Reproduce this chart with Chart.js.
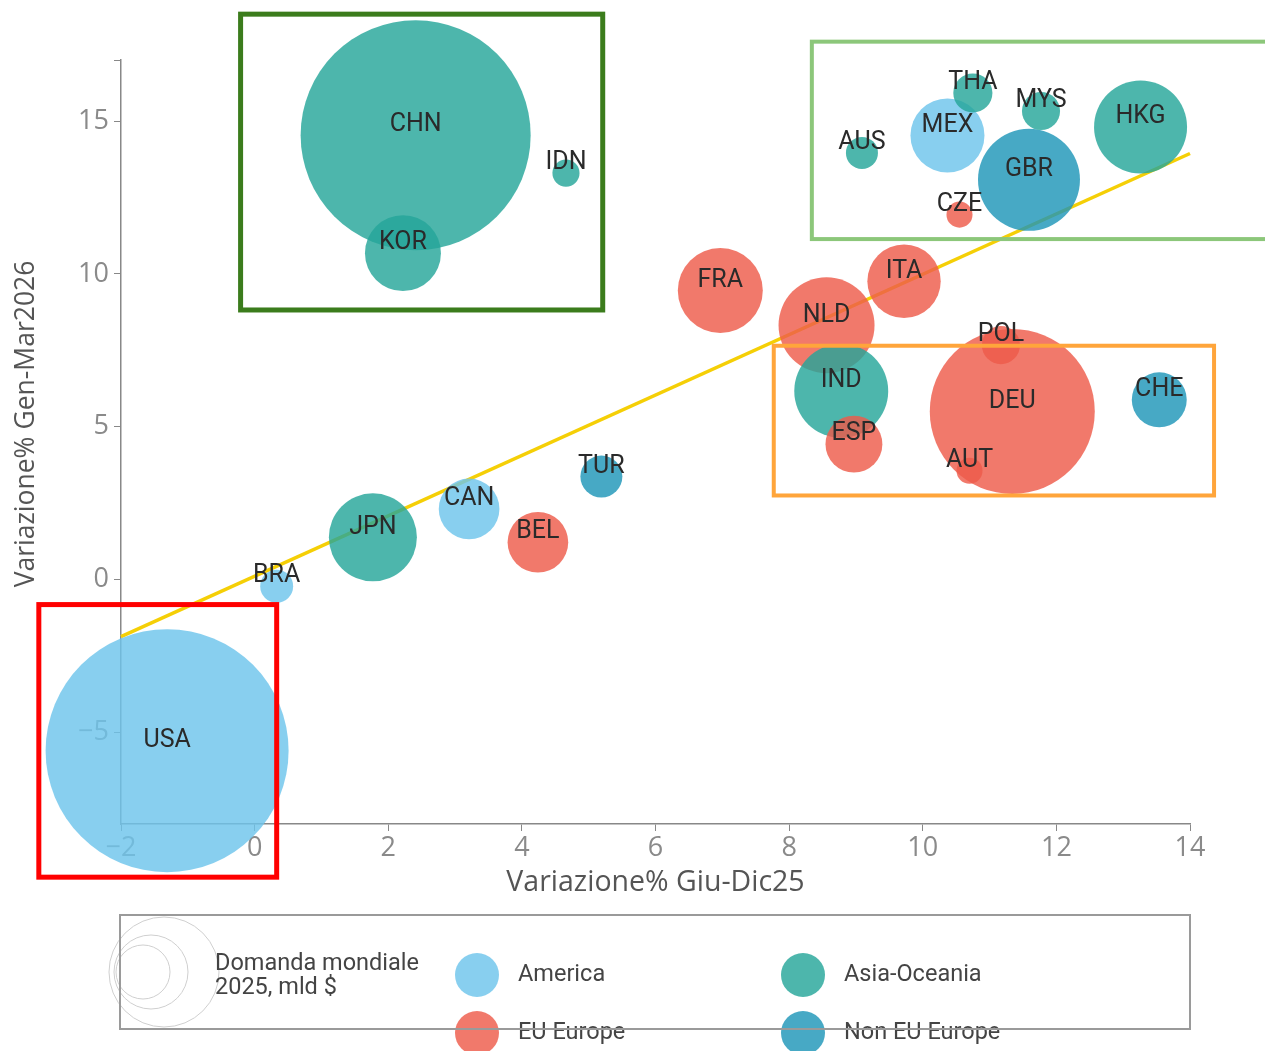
<!DOCTYPE html>
<html>
<head>
<meta charset="utf-8">
<script src="https://cdn.jsdelivr.net/npm/chart.js@4.4.1/dist/chart.umd.min.js"></script>
<style>
  html, body { margin: 0; padding: 0; background: #fff; }
  #wrap { width: 1265px; height: 1051px; position: relative; }
</style>
</head>
<body>
<div id="wrap"><canvas id="chart"></canvas></div>
<script>
// paesi, nell'ordine in cui vengono disegnati (i più grandi sotto)
const countries = ["USA", "CHN", "DEU", "HKG", "NLD", "IND", "JPN", "FRA", "MEX", "GBR", "KOR", "ITA", "CAN",
  "BEL", "ESP", "CHE", "TUR", "THA", "MYS", "POL", "AUS", "BRA", "IDN", "CZE", "AUT"];
// Variazione% Giu-Dic25
const varGiuDic = [-1.31, 2.41, 11.34, 13.26, 8.56, 8.78, 1.77, 6.97, 10.37, 11.59, 2.22, 9.72, 3.21,
  4.24, 8.97, 13.54, 5.19, 10.75, 11.77, 11.17, 9.09, 0.33, 4.66, 10.55, 10.70];
// Variazione% Gen-Mar2026
const varGenMar = [-5.6, 14.54, 5.5, 14.81, 8.32, 6.17, 1.38, 9.46, 14.53, 13.08, 10.68, 9.76, 2.31,
  1.22, 4.43, 5.88, 3.37, 15.92, 15.33, 7.67, 13.96, -0.22, 13.3, 11.94, 3.56];
// Domanda mondiale 2025, mld $
const domanda = [3050, 2733, 1406, 447, 476, 456, 400, 373, 283, 537, 298, 278, 190,
  190, 167, 156, 91, 79, 75, 75, 53, 56, 38, 35, 35];
// area geografica (indice in regions)
const area = [0, 1, 2, 1, 2, 1, 1, 2, 0, 3, 1, 2, 0,
  2, 2, 3, 3, 1, 1, 2, 1, 0, 1, 2, 2];
const regions = ["America", "Asia-Oceania", "EU Europe", "Non EU Europe"];
const regionColors = ["rgba(110,196,236,0.82)", "rgba(38,166,154,0.82)", "rgba(238,92,74,0.82)", "rgba(30,150,184,0.82)"];

const xTicks = [-2, 0, 2, 4, 6, 8, 10, 12, 14];
const yTicks = [-5, 0, 5, 10, 15, 17];

// retta di tendenza
const trendX = [-2, 14];
const trendY = [-1.87, 13.94];

// riquadri evidenziati (coordinate in unità degli assi)
const boxes = [
  { x0: -3.23, x1: 0.33, y0: -0.82, y1: -9.74, color: "#ff0000", w: 5 },
  { x0: -0.21, x1: 5.21, y0: 18.5, y1: 8.82, color: "#3b7c1c", w: 5 },
  { x0: 8.34, x1: 15.6, y0: 17.6, y1: 11.14, color: "#8cc77a", w: 4 },
  { x0: 7.77, x1: 14.36, y0: 7.65, y1: 2.75, color: "#ffa53b", w: 4 }
];

const SIZE_K = 2.2; // raggio px = k * sqrt(domanda)
const fmt = (v) => String(v).replace("-", "\u2212");

const bubbleLabels = {
  id: "bubbleLabels",
  afterDatasetsDraw(chart) {
    const ctx = chart.ctx;
    const meta = chart.getDatasetMeta(1);
    ctx.save();
    ctx.font = "25px Roboto";
    ctx.fillStyle = "#2a2a2a";
    ctx.textAlign = "center";
    ctx.textBaseline = "middle";
    meta.data.forEach((el, i) => {
      ctx.fillText(countries[i], el.x, el.y - 10);
    });
    // riquadri
    const xs = chart.scales.x, ys = chart.scales.y;
    boxes.forEach((b) => {
      const l = xs.getPixelForValue(b.x0), r = xs.getPixelForValue(b.x1);
      const t = ys.getPixelForValue(b.y0), bt = ys.getPixelForValue(b.y1);
      ctx.strokeStyle = b.color;
      ctx.lineWidth = b.w;
      ctx.strokeRect(l, t, r - l, bt - t);
    });
    ctx.restore();
  }
};

const yTitle = {
  id: "yTitle",
  afterDraw(chart) {
    const ctx = chart.ctx;
    ctx.save();
    ctx.translate(26, 424);
    ctx.rotate(-Math.PI / 2);
    ctx.font = "26.5px 'Open Sans'";
    ctx.fillStyle = "#555";
    ctx.textAlign = "center";
    ctx.textBaseline = "middle";
    ctx.fillText("Variazione% Gen-Mar2026", 0, 0);
    ctx.restore();
  }
};

const sizeLegend = {
  id: "sizeLegend",
  afterDraw(chart) {
    const ctx = chart.ctx;
    ctx.save();
    // cerchi della dimensione
    ctx.strokeStyle = "#cfcfcf";
    ctx.lineWidth = 1;
    [[164, 972, 55], [151, 972, 37], [143, 972, 27]].forEach(([cx, cy, r]) => {
      ctx.beginPath();
      ctx.arc(cx, cy, r, 0, Math.PI * 2);
      ctx.stroke();
    });
    ctx.fillStyle = "#444";
    ctx.font = "23.5px Roboto";
    ctx.textAlign = "left";
    ctx.textBaseline = "middle";
    ctx.fillText("Domanda mondiale", 215, 964);
    ctx.fillText("2025, mld $", 215, 988);
    // aree
    regions.forEach((name, i) => {
      const cx = i % 2 === 0 ? 477 : 803;
      const cy = i < 2 ? 975 : 1033;
      ctx.fillStyle = regionColors[i];
      ctx.beginPath();
      ctx.arc(cx, cy, 22, 0, Math.PI * 2);
      ctx.fill();
      ctx.fillStyle = "#444";
      ctx.fillText(name, cx + 41, cy);
    });
    ctx.strokeStyle = "#9a9a9a";
    ctx.lineWidth = 2;
    ctx.strokeRect(120, 915, 1070, 114);
    ctx.restore();
  }
};

new Chart(document.getElementById("chart"), {
  type: "bubble",
  data: {
    datasets: [
      {
        type: "line",
        data: trendX.map((x, i) => ({ x: x, y: trendY[i] })),
        borderColor: "#f5cf06",
        borderWidth: 3.5,
        pointRadius: 0,
        fill: false,
        clip: false,
        order: 2
      },
      {
        type: "bubble",
        data: countries.map((c, i) => ({ x: varGiuDic[i], y: varGenMar[i], r: SIZE_K * Math.sqrt(domanda[i]) })),
        backgroundColor: area.map((a) => regionColors[a]),
        borderWidth: 0,
        clip: false,
        order: 1
      }
    ]
  },
  options: {
    responsive: true,
    maintainAspectRatio: false,
    animation: false,
    devicePixelRatio: 1,
    layout: { autoPadding: false, padding: { left: 0, top: 60, right: 75, bottom: 151 } },
    plugins: { legend: { display: false }, tooltip: { enabled: false } },
    scales: {
      x: {
        type: "linear",
        min: -2,
        max: 14,
        afterBuildTicks: (s) => { s.ticks = xTicks.map((v) => ({ value: v })); },
        afterFit: (s) => { s.height = 76; },
        grid: { drawOnChartArea: false, tickLength: 7, tickColor: "#888", color: "#888" },
        border: { color: "#888", width: 1.5 },
        ticks: { color: "#8a8a8a", font: { size: 27, family: "'Open Sans'" }, padding: 1, callback: (v) => fmt(v) },
        title: { display: true, text: "Variazione% Giu-Dic25", color: "#555", font: { size: 28.5, family: "'Open Sans'" }, padding: { top: 0, bottom: 0 } }
      },
      y: {
        type: "linear",
        min: -8,
        max: 17,
        afterBuildTicks: (s) => { s.ticks = yTicks.map((v) => ({ value: v })); },
        afterFit: (s) => { s.width = 121; },
        grid: { drawOnChartArea: false, tickLength: 7, tickColor: "#888", color: "#888" },
        border: { color: "#888", width: 1.5 },
        ticks: { color: "#8a8a8a", font: { size: 27, family: "'Open Sans'" }, padding: 5, callback: (v) => (v === 17 ? "" : fmt(v)) }
      }
    }
  },
  plugins: [bubbleLabels, yTitle, sizeLegend]
});
</script>
</body>
</html>
